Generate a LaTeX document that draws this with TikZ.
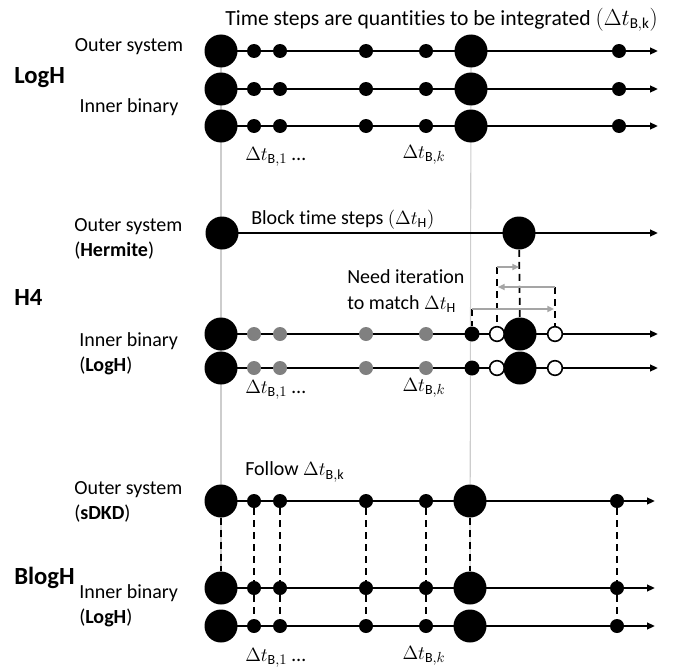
\documentclass[tikz,border=0pt]{standalone}
\usepackage{fontspec}
\setmainfont{Carlito}[Ligatures={NoCommon}]
\usetikzlibrary{arrows.meta,backgrounds}
\definecolor{gline}{RGB}{205,205,205}
\definecolor{gdot}{RGB}{128,128,128}
\definecolor{garrow}{RGB}{165,165,165}
\tikzset{
  big/.style={circle, fill=black, inner sep=0pt, minimum size=24.75pt},
  sdot/.style={circle, fill=black, inner sep=0pt, minimum size=10.5pt},
  gsdot/.style={sdot, fill=gdot},
  kdot/.style={circle, fill=black, inner sep=0pt, minimum size=11.25pt},
  odot/.style={circle, draw=black, line width=1.2pt, fill=white, inner sep=0pt, minimum size=11pt},
  tline/.style={line width=1.9pt, -{Triangle[length=6pt,width=5pt]}},
  guide/.style={gline, line width=0.8pt},
  vdash/.style={line width=1.3pt, dash pattern=on 5.25pt off 3.75pt},
  garr/.style={garrow, line width=1.3pt, -{Triangle[length=5pt,width=4.5pt]}},
  lab/.style={inner sep=0pt, font=\fontsize{15}{19}\selectfont},
  tlab/.style={lab, align=left, anchor=west},
  biglab/.style={inner sep=0pt, anchor=west, font=\fontsize{18.5}{20}\selectfont\bfseries},
}
\begin{document}
\begin{tikzpicture}[x=0.75pt, y=-0.75pt]
\useasboundingbox (0,0) rectangle (673,667);

% ---------- LogH ----------
\foreach \r/\y in {1/51, 2/89, 3/126} {
  \node[big] (L\r a) at (221,\y) {};
  \node[sdot] (L\r b) at (254,\y) {};
  \node[sdot] (L\r c) at (280,\y) {};
  \node[sdot] (L\r d) at (366,\y) {};
  \node[sdot] (L\r e) at (426,\y) {};
  \node[big] (L\r f) at (471,\y) {};
  \node[sdot] (L\r g) at (619,\y) {};
  \coordinate (L\r end) at (658,\y);
}
\node[lab, anchor=east, font=\fontsize{16.2}{19}\selectfont] (title) at (658,20) {Time steps are quantities to be integrated $\Bigl(\Delta t_{\mathrm{B,k}}\Bigr)$};
\node[lab] (lo1) at (129,47) {Outer system};
\node[lab] (li1) at (129,107) {Inner binary};
\node[biglab] (nLogH) at (14,78) {LogH};
\node[lab, anchor=west] (dt1a) at (245,157) {$\Delta t_{\mathrm{B},1}$ …};
\node[lab] (dtka) at (424,155) {$\Delta t_{\mathrm{B},k}$};

% ---------- H4 ----------
\node[big] (Ha) at (222,233) {};
\node[big] (Hb) at (519,233) {};
\coordinate (Hend) at (658,233);
\foreach \r/\y in {1/334, 2/368} {
  \node[big] (I\r a) at (221,\y) {};
  \node[gsdot] (I\r b) at (254,\y) {};
  \node[gsdot] (I\r c) at (280,\y) {};
  \node[gsdot] (I\r d) at (366,\y) {};
  \node[gsdot] (I\r e) at (426,\y) {};
  \node[kdot] (I\r k) at (472,\y) {};
  \node[odot] (I\r o) at (497,\y) {};
  \node[big] (I\r f) at (520,\y) {};
  \node[odot] (I\r p) at (555,\y) {};
  \coordinate (I\r end) at (658,\y);
}
\node[tlab] (lo2) at (74,239) {Outer system\\(\textbf{Hermite})};
\node[tlab] (li2) at (79,354) {Inner binary\\(\textbf{LogH})};
\node[biglab] (nH4) at (14,297) {H4};
\node[lab, anchor=west] (blk) at (251,220) {Block time steps $(\Delta t_{\mathrm{H}})$};
\node[tlab] (need) at (347,291) {Need iteration\\to match $\Delta t_{\mathrm{H}}$};
\node[lab, anchor=west] (dt1b) at (245,390) {$\Delta t_{\mathrm{B},1}$ …};
\node[lab] (dtkb) at (424,388) {$\Delta t_{\mathrm{B},k}$};

\coordinate (q1) at (497,267);
\coordinate (r1) at (519,267);
\coordinate (q2) at (555,287);
\coordinate (r2) at (498,287);
\coordinate (q3) at (472,309);
\coordinate (r3) at (554,309);
\draw[vdash] (Hb) -- (I1f);
\draw[vdash] (q1) -- (I1o);
\draw[vdash] (q2) -- (I1p);
\draw[vdash] (q3) -- (I1k);
\draw[garr] (q1) -- (r1);
\draw[garr] (q2) -- (r2);
\draw[garr] (q3) -- (r3);

% ---------- BlogH ----------
\foreach \r/\y in {1/501, 2/588, 3/626} {
  \node[big] (B\r a) at (221,\y) {};
  \node[sdot] (B\r b) at (254,\y) {};
  \node[sdot] (B\r c) at (280,\y) {};
  \node[sdot] (B\r d) at (366,\y) {};
  \node[sdot] (B\r e) at (426,\y) {};
  \node[big] (B\r f) at (470,\y) {};
  \node[sdot] (B\r g) at (617,\y) {};
  \coordinate (B\r end) at (655,\y);
}
\foreach \c in {a,b,c,d,e,f,g} {
  \draw[vdash] (B1\c) -- (B2\c);
}
\foreach \c in {b,c,d,e,g} {
  \draw[vdash] (B2\c) -- (B3\c);
}
\node[lab, anchor=west] (follow) at (245,472) {Follow $\Delta t_{\mathrm{B,k}}$};
\node[tlab] (lo3) at (74,502) {Outer system\\(\textbf{sDKD})};
\node[tlab] (li3) at (79,606) {Inner binary\\(\textbf{LogH})};
\node[biglab] (nBlogH) at (14,578) {BlogH};
\node[lab, anchor=west] (dt1c) at (245,658) {$\Delta t_{\mathrm{B},1}$ …};
\node[lab] (dtkc) at (424,656) {$\Delta t_{\mathrm{B},k}$};

% ---------- background: guides and time lines ----------
\begin{scope}[on background layer]
  \draw[guide] (L1a.center) -- (B2a.center);
  \draw[guide] (L1f.center) -- (B2f.center);
  \foreach \r in {1,2,3} {
    \draw[tline] (L\r a.center) -- (L\r end);
    \draw[tline] (B\r a.center) -- (B\r end);
  }
  \draw[tline] (Ha.center) -- (Hend);
  \draw[tline] (I1a.center) -- (I1end);
  \draw[tline] (I2a.center) -- (I2end);
\end{scope}
\end{tikzpicture}
\end{document}
